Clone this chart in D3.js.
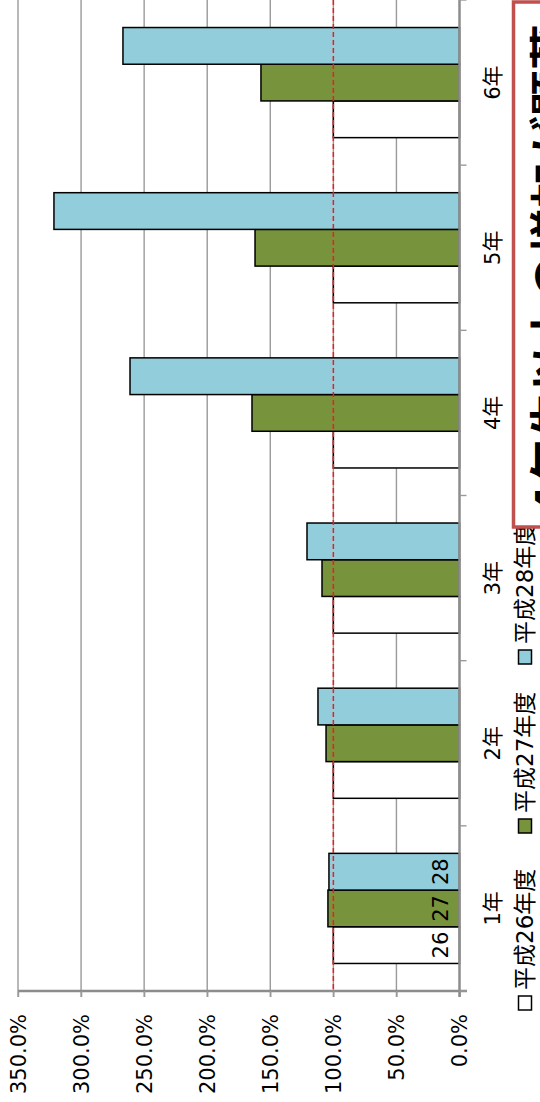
<!DOCTYPE html>
<html><head><meta charset="utf-8">
<script src="https://cdn.jsdelivr.net/npm/d3@7"></script>
<style>
html,body{margin:0;padding:0;background:#fff;}
svg{display:block;}
text{font-family:"DejaVu Sans","Noto Sans CJK JP",sans-serif;fill:#000;}
</style></head>
<body>
<script>
// ---- data ----
const categories = ["1年","2年","3年","4年","5年","6年"];
const seriesNames = ["平成26年度","平成27年度","平成28年度"];
const seriesShort = ["26","27","28"];
const values26 = [100,100,100,100,100,100];
const values27 = [104.3,105.8,109.0,164.5,162.1,157.4];
const values28 = [103.5,112.2,120.9,261.2,321.5,266.8];
const valueTicks = [0,50,100,150,200,250,300,350];
const referenceValue = 100;
const noteText = "4年生以上の増加が顕著";

const seriesValues = [values26, values27, values28];
const colors = ["#ffffff","#77933c","#92cddc"];

const W = 540, H = 1102;
const svg = d3.select("body").append("svg").attr("width",W).attr("height",H);

const x = d3.scaleLinear().domain([0,350]).range([459.5,18]);
const y = d3.scaleBand().domain(categories.slice().reverse()).range([0,991]).padding(0);
const ySub = d3.scaleBand().domain(["28","27","26"]).range([0,y.bandwidth()]).paddingInner(0).paddingOuter(0.75);

// gridlines
svg.append("g").selectAll("line").data(valueTicks.filter(v=>v>0)).join("line")
  .attr("x1",d=>x(d)).attr("x2",d=>x(d)).attr("y1",0).attr("y2",997)
  .attr("stroke","#9a9a9a").attr("stroke-width",1.4);

// bars
const rows = [];
categories.forEach((c,i)=>seriesShort.forEach((s,j)=>rows.push({c,s,j,v:seriesValues[j][i]})));
svg.append("g").selectAll("rect").data(rows).join("rect")
  .attr("x",d=>x(d.v)).attr("width",d=>x(0)-x(d.v))
  .attr("y",d=>y(d.c)+ySub(d.s)).attr("height",ySub.bandwidth())
  .attr("fill",d=>colors[d.j]).attr("stroke","#000").attr("stroke-width",1.5);

// reference dashed line
svg.append("line").attr("x1",x(referenceValue)).attr("x2",x(referenceValue))
  .attr("y1",0).attr("y2",991).attr("stroke","#ee1c24").attr("stroke-width",1.5)
  .attr("stroke-dasharray","5,3");

// value axis (bottom)
const xAxis = d3.axisBottom(x).tickValues(valueTicks).tickSize(6).tickFormat(d=>d.toFixed(1)+"%");
const gx = svg.append("g").attr("transform","translate(0,991)").call(xAxis);
gx.select(".domain").attr("d",`M18,0H467`).attr("stroke","#8c8c8c").attr("stroke-width",2.5);
gx.selectAll(".tick line").attr("stroke","#9a9a9a").attr("stroke-width",1.4);
gx.selectAll(".tick text").attr("font-size",21).attr("font-family","DejaVu Sans")
  .attr("text-anchor","end").attr("y",0).attr("dy","0.35em")
  .attr("transform","translate(0,23) rotate(-90)");

// category axis (right side of plot)
const yAxis = d3.axisRight(y).tickSize(0).tickPadding(0);
const gy = svg.append("g").attr("transform",`translate(${x(0)},0)`).call(yAxis);
gy.select(".domain").attr("d","M0,0V997").attr("stroke","#8c8c8c").attr("stroke-width",2.5);
gy.selectAll(".tick text").attr("font-size",21).attr("text-anchor","middle")
  .attr("x",0).attr("dy","0.35em").attr("transform","translate(33,0) rotate(-90)");
// category boundary ticks
const bounds = categories.map(c=>y(c)).concat([991]);
svg.append("g").selectAll("line").data(bounds).join("line")
  .attr("x1",x(0)).attr("x2",x(0)+7).attr("y1",d=>d).attr("y2",d=>d)
  .attr("stroke","#9a9a9a").attr("stroke-width",1.4);

// series labels in first category
svg.append("g").selectAll("text").data(seriesShort).join("text")
  .attr("transform",d=>`translate(441,${y(categories[0])+ySub(d)+ySub.bandwidth()/2}) rotate(-90)`)
  .attr("text-anchor","middle").attr("dy","0.35em").attr("font-size",21).text(d=>d);

// legend
const legendY = [1010, 833, 664];
const lg = svg.append("g").selectAll("g").data(seriesNames).join("g")
  .attr("transform",(d,i)=>`translate(525,${legendY[i]})`);
lg.append("rect").attr("x",-6.5).attr("y",-14).attr("width",13).attr("height",14)
  .attr("fill",(d,i)=>colors[i]).attr("stroke","#000").attr("stroke-width",1.5);
lg.append("text").attr("transform","translate(0,-20) rotate(-90)")
  .attr("text-anchor","start").attr("dy","0.35em").attr("font-size",23).text(d=>d);

// note box
svg.append("rect").attr("x",513.5).attr("y",2).attr("width",60).attr("height",525)
  .attr("fill","#fff").attr("stroke","#c0504d").attr("stroke-width",3.5);
svg.append("text").attr("transform","translate(569,24) rotate(-90)")
  .attr("text-anchor","end").attr("font-size",46).attr("font-weight","bold")
  .attr("font-family","Noto Sans CJK JP").text(noteText);
</script>
</body></html>
